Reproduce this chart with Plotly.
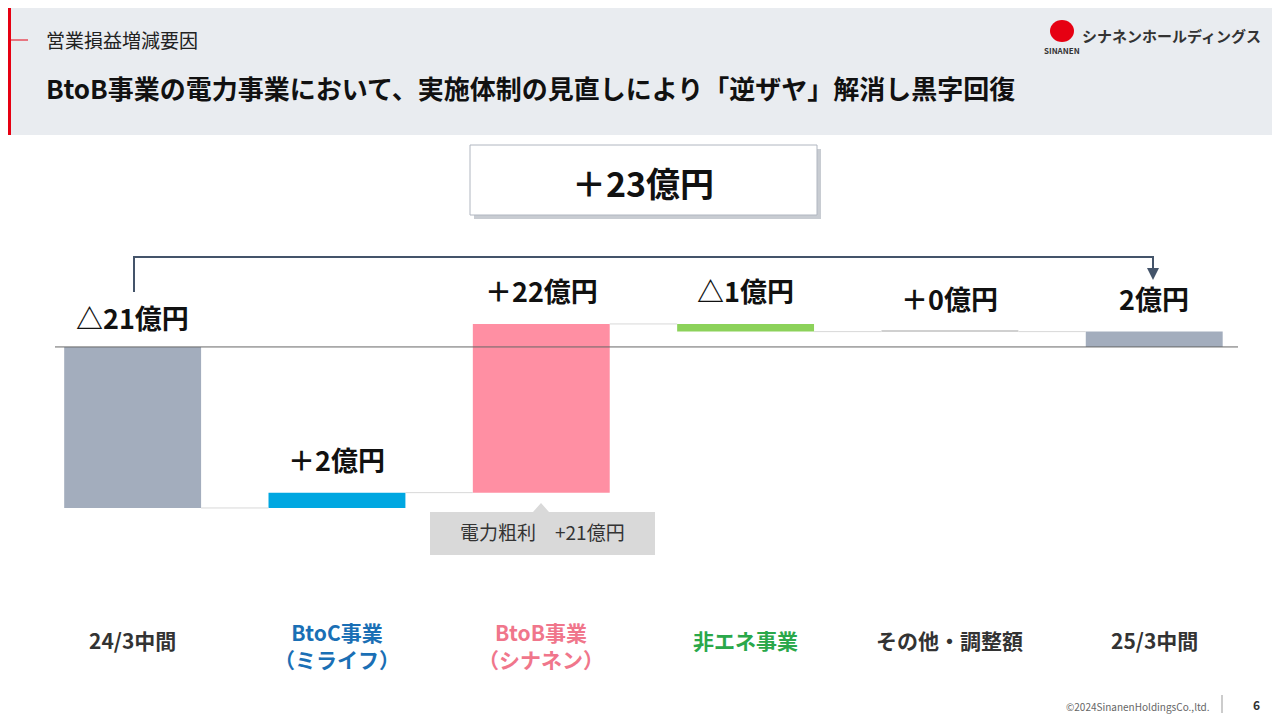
import plotly.graph_objects as go

categories = ["24/3中間", "BtoC事業<br>（ミライフ）", "BtoB事業<br>（シナネン）", "非エネ事業", "その他・調整額", "25/3中間"]
cat_colors = ["#333333", "#1a6fb5", "#f0768b", "#2aa84a", "#333333", "#333333"]
deltas = [-21, 2, 22, -1, 0, 2]   # first and last are totals
labels = ["△21億円", "＋2億円", "＋22億円", "△1億円", "＋0億円", "2億円"]
bar_colors = ["#a3adbd", "#00a7e1", "#ff8fa3", "#8cd25a", "#d0d0d0", "#a3adbd"]

# cumulative bases
bases, tops = [], []
level = 0
for i, d in enumerate(deltas):
    if i == 0 or i == len(deltas) - 1:
        b, t = 0, d
        level = d
    else:
        b, t = level, level + d
        level = t
    bases.append(min(b, t))
    tops.append(max(b, t))
heights = [max(t - b, 0.15) for b, t in zip(bases, tops)]
ends = [deltas[0]]
lv = deltas[0]
for d in deltas[1:-1]:
    lv += d
    ends.append(lv)

W, H = 1280, 720
OFF = 8  # page margin in the browser
L, R, T, B = 55, 1238, 230, 600
def px(x): return (x - L) / (R - L)
def py(y): return (B - y) / (B - T)

fig = go.Figure(go.Bar(x=list(range(6)), y=heights, base=bases, width=0.67,
                       marker=dict(color=bar_colors, line_width=0), hoverinfo="skip"))

shapes = []
# header band
shapes.append(dict(type="rect", xref="paper", yref="paper", x0=px(0), x1=px(1280), y0=py(0), y1=py(135),
                   fillcolor="#e9ecf0", line_width=0, layer="below"))
shapes.append(dict(type="rect", xref="paper", yref="paper", x0=px(8), x1=px(11), y0=py(0), y1=py(135),
                   fillcolor="#e60012", line_width=0))
shapes.append(dict(type="line", xref="paper", yref="paper", x0=px(0), x1=px(28), y0=py(40), y1=py(40),
                   line=dict(color="#e60012", width=1)))
# baseline
shapes.append(dict(type="line", xref="paper", yref="y", x0=0, x1=1, y0=0, y1=0, line=dict(color="#666", width=1)))
# connectors
for i in range(5):
    lv = ends[i] if i < len(ends) else deltas[-1]
    shapes.append(dict(type="line", xref="x", yref="y", x0=i + 0.335, x1=i + 0.665, y0=lv, y1=lv,
                       line=dict(color="#d8d8d8", width=1)))
# bracket
shapes.append(dict(type="path", xref="paper", yref="paper",
                   path=f"M {px(134)} {py(292)} L {px(134)} {py(257)} L {px(1153)} {py(257)} L {px(1153)} {py(272)}",
                   line=dict(color="#44546a", width=2)))
# +23 box with shadow
shapes.append(dict(type="rect", xref="paper", yref="paper", x0=px(474), x1=px(821), y0=py(149), y1=py(219),
                   fillcolor="#c8ccd2", line_width=0))
shapes.append(dict(type="rect", xref="paper", yref="paper", x0=px(470), x1=px(817), y0=py(145), y1=py(215),
                   fillcolor="white", line=dict(color="#b0b6c0", width=1)))
# callout
shapes.append(dict(type="path", xref="paper", yref="paper",
                   path=f"M {px(430)} {py(512)} L {px(533)} {py(512)} L {px(541)} {py(503)} L {px(549)} {py(512)} "
                        f"L {px(655)} {py(512)} L {px(655)} {py(555)} L {px(430)} {py(555)} Z",
                   fillcolor="#d9d9d9", line_width=0))
# logo mark
shapes.append(dict(type="circle", xref="paper", yref="paper", x0=px(1050), x1=px(1074), y0=py(20), y1=py(42),
                   fillcolor="#e60012", line_width=0))
shapes.append(dict(type="line", xref="paper", yref="paper", x0=px(1222), x1=px(1222), y0=py(695), y1=py(713),
                   line=dict(color="#999", width=1)))

ann = []
F = "Noto Sans CJK JP"
def txt(x, y, s, size, color="#111", xa="center"):
    return dict(xref="paper", yref="paper", x=px(x), y=py(y), text=s, showarrow=False,
                xanchor=xa, yanchor="middle", font=dict(size=size, color=color, family=F))

ann.append(dict(xref="paper", yref="paper", x=px(1153), y=py(280), ax=0, ay=-12, showarrow=True,
                arrowhead=2, arrowsize=1.2, arrowwidth=2, arrowcolor="#44546a", text=""))
for i, (lab, t) in enumerate(zip(labels, tops)):
    y = max(t, 0) if i == 0 else t
    shift = {0: 8}.get(i, 12)
    ann.append(dict(x=i, y=y, xref="x", yref="y", text=f"<b>{lab}</b>", showarrow=False,
                    yanchor="bottom", yshift=shift, font=dict(size=27, color="#111", family=F)))
for i, (c, col) in enumerate(zip(categories, cat_colors)):
    ann.append(dict(x=i, y=py(640), xref="x", yref="paper", text=f"<b>{c}</b>", showarrow=False,
                    yanchor="top" if "<br>" in c else "middle", yshift=25 if "<br>" in c else 0,
                    font=dict(size=21, color=col, family=F)))
ann += [
    txt(44, 40, "営業損益増減要因", 19, "#222", "left"),
    txt(44, 88, "<b>BtoB事業の電力事業において、実施体制の見直しにより「逆ザヤ」解消し黒字回復</b>", 26, "#111", "left"),
    txt(643, 182, "<b>＋23億円</b>", 34),
    txt(542, 531, "電力粗利　+21億円", 19, "#333"),
    txt(1080, 35, "<b>シナネンホールディングス</b>", 15, "#333", "left"),
    txt(1062, 50, "<b>SINANEN</b>", 8, "#333"),
    txt(1212, 706, "©2024SinanenHoldingsCo.,ltd.", 10, "#666", "right"),
    txt(1256, 704, "<b>6</b>", 12, "#333"),
]

fig.update_layout(
    width=W, height=H, margin=dict(l=L - OFF, r=W - R + OFF, t=T - OFF, b=H - B + OFF),
    paper_bgcolor="white", plot_bgcolor="white", showlegend=False,
    xaxis=dict(range=[-0.38, 5.41], visible=False, fixedrange=True),
    yaxis=dict(range=[-33, 15.25], visible=False, fixedrange=True),
    shapes=shapes, annotations=ann, font=dict(family=F),
)
fig.write_html("out.html")
